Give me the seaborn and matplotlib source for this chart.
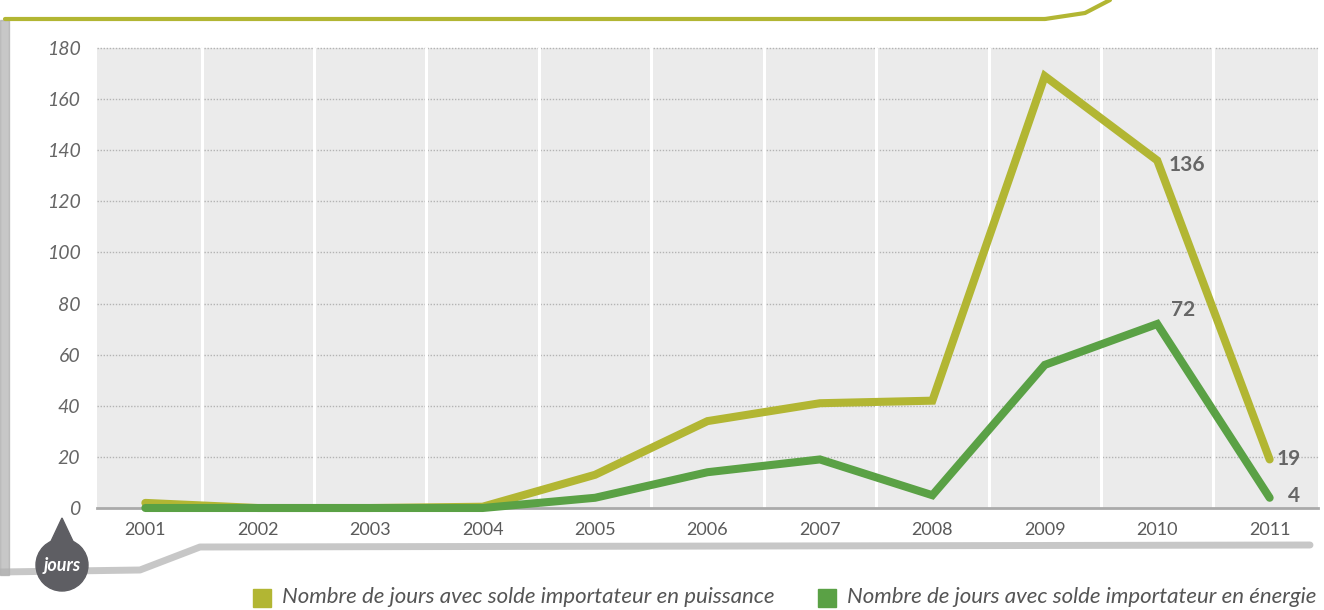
import numpy as np
import pandas as pd
import seaborn as sns
import matplotlib.pyplot as plt
from matplotlib.patches import Ellipse, Polygon, Rectangle
from matplotlib.lines import Line2D

years = [2001, 2002, 2003, 2004, 2005, 2006, 2007, 2008, 2009, 2010, 2011]
jours_puissance = [2, 0, 0, 0.5, 13, 34, 41, 42, 169, 136, 19]
jours_energie = [0, 0, 0, 0, 4, 14, 19, 5, 56, 72, 4]
serie_labels = ["Nombre de jours avec solde importateur en puissance",
                "Nombre de jours avec solde importateur en énergie"]
y_ticks = [0, 20, 40, 60, 80, 100, 120, 140, 160, 180]

c_puissance = "#b2b633"
c_energie = "#5aa145"
c_text = "#666666"

df = pd.DataFrame({"annee": years * 2,
                   "jours": jours_puissance + jours_energie,
                   "serie": [serie_labels[0]] * len(years) + [serie_labels[1]] * len(years)})

sns.set_style("white")
plt.rcParams["font.family"] = ["Lato", "DejaVu Sans"]

fig = plt.figure(figsize=(13.24, 6.10), dpi=100)
ax = fig.add_axes([97 / 1324, 102 / 610, 1221 / 1324, 460 / 610])
ax.set_facecolor("#ebebeb")

# grid: dotted horizontal, white vertical between years
for v in y_ticks[1:]:
    ax.axhline(v, color="#b4b4b4", lw=1.0, ls=(0, (1, 1.2)), zorder=1)
for x in np.arange(years[0] + 0.5, years[-1], 1):
    ax.axvline(x, color="white", lw=2.2, zorder=1)

sns.lineplot(data=df, x="annee", y="jours", hue="serie",
             palette=[c_puissance, c_energie], linewidth=5.8,
             legend=False, ax=ax, zorder=3)
for l in ax.lines:
    l.set_solid_joinstyle("miter")
    l.set_clip_on(False)

ax.set_xlim(years[0] - 0.43, years[-1] + 0.43)
ax.set_ylim(0, 180)
ax.set_xticks(years)
ax.set_xticklabels([str(y) for y in years], fontsize=13, color="#5a5a5a")
ax.set_yticks(y_ticks)
ax.set_yticklabels([str(v) for v in y_ticks], fontsize=14, color=c_text, fontstyle="italic")
ax.tick_params(axis="x", length=0, pad=10)
ax.tick_params(axis="y", length=0, pad=12)
ax.set_xlabel("")
ax.set_ylabel("")
for s in ["top", "right", "left"]:
    ax.spines[s].set_visible(False)
ax.spines["bottom"].set_color("#aaaaaa")
ax.spines["bottom"].set_linewidth(2)

# value labels
lab = dict(fontsize=15, fontweight="bold", color=c_text, zorder=5)
ax.annotate("136", (2010, jours_puissance[9]), xytext=(8, -3), textcoords="offset points",
            ha="left", va="center", **lab)
ax.annotate("72", (2010, jours_energie[9]), xytext=(19, 10), textcoords="offset points",
            ha="center", va="center", **lab)
ax.annotate("19", (2011, jours_puissance[10]), xytext=(5, 0), textcoords="offset points",
            ha="left", va="center", **lab)
ax.annotate("4", (2011, jours_energie[10]), xytext=(13, 1), textcoords="offset points",
            ha="left", va="center", **lab)

# frame decorations
def px(x, y):
    return (x / 1324, 1 - y / 610)

fig.patches.append(Rectangle(px(0, 575), 9 / 1324, 555 / 610, transform=fig.transFigure,
                             color="#9a9a9a", alpha=0.55, zorder=0))
fig.lines.append(Line2D([5 / 1324, 1045 / 1324], [1 - 19 / 610, 1 - 19 / 610],
                        transform=fig.transFigure, color=c_puissance, lw=3))
fig.lines.append(Line2D([1045 / 1324, 1085 / 1324, 1110 / 1324],
                        [1 - 19 / 610, 1 - 13 / 610, 1 - 0 / 610],
                        transform=fig.transFigure, color=c_puissance, lw=3))
fig.lines.append(Line2D([0, 140 / 1324, 200 / 1324, 1310 / 1324],
                        [1 - 572 / 610, 1 - 570 / 610, 1 - 547 / 610, 1 - 545 / 610],
                        transform=fig.transFigure, color="#b0b0b0", lw=5, alpha=0.7))

# "jours" badge
fig.patches.append(Polygon([px(46, 552), px(62, 518), px(78, 552)], closed=True,
                           transform=fig.transFigure, color="#5e5e63", zorder=5))
fig.patches.append(Ellipse(px(62, 565), 52 / 1324, 52 / 610, transform=fig.transFigure,
                           color="#5e5e63", zorder=5))
fig.text(62 / 1324, 1 - 566 / 610, "jours", ha="center", va="center", color="white",
         fontsize=13, style="italic", fontweight="bold", zorder=6)

# legend
for xs, c, t in [(253, c_puissance, serie_labels[0]), (818, c_energie, serie_labels[1])]:
    fig.patches.append(Rectangle(px(xs, 607), 18 / 1324, 18 / 610, transform=fig.transFigure,
                                 color=c, zorder=5))
    fig.text((xs + 29) / 1324, 1 - 597 / 610, t, ha="left", va="center",
             fontsize=16, style="italic", color="#555555")

fig.savefig("out.png", dpi=100)
